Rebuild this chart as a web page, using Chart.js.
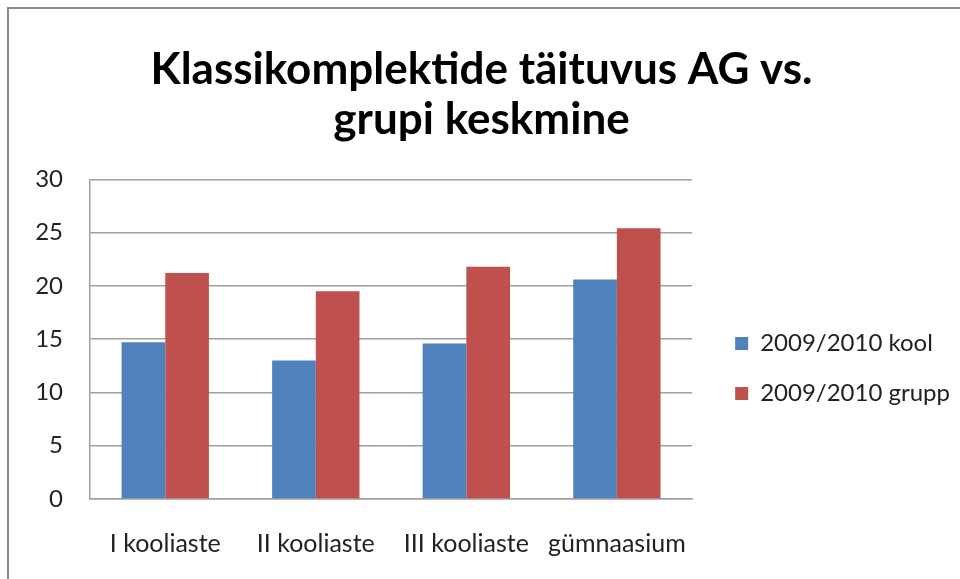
<!DOCTYPE html>
<html lang="et">
<head>
<meta charset="UTF-8">
<title>Klassikomplektide täituvus</title>
<style>
  html, body { margin: 0; padding: 0; background: #fff; }
  .wrap { position: relative; width: 960px; height: 579px; overflow: hidden; }
  .frame { position: absolute; left: 7px; top: 7px; width: 1000px; height: 1000px;
           border-left: 2px solid #8a8a8a; border-top: 2px solid #8a8a8a; box-sizing: border-box; }
  canvas { position: absolute; left: 0; top: 0; }
</style>
</head>
<body>
<div class="wrap">
  <canvas id="chart" width="960" height="579"></canvas>
  <div class="frame"></div>
</div>

<script src="https://cdn.jsdelivr.net/npm/chart.js"></script>
<script>
  const categories = ['I kooliaste', 'II kooliaste', 'III kooliaste', 'gümnaasium'];
  const koolValues = [14.7, 13.0, 14.6, 20.6];
  const gruppValues = [21.2, 19.5, 21.8, 25.4];
  const seriesNames = ['2009/2010 kool', '2009/2010 grupp'];
  const yTicks = [0, 5, 10, 15, 20, 25, 30];

  const font = 'Lato, Calibri, "Open Sans", sans-serif';

  // nudge legend and title after layout, so the plot keeps its size
  const boxShift = {
    id: 'boxShift',
    afterLayout(chart, args, opts) {
      const lg = chart.legend;
      if (lg) {
        lg.left += opts.legendDx;
        lg.right += opts.legendDx;
        lg.top += opts.legendDy;
        lg.bottom += opts.legendDy;
      }
      const tb = chart.titleBlock;
      if (tb) {
        tb.left += opts.titleDx;
        tb.right += opts.titleDx;
      }
    }
  };

  new Chart(document.getElementById('chart'), {
    type: 'bar',
    data: {
      labels: categories,
      datasets: [
        { label: seriesNames[0], data: koolValues, backgroundColor: '#4F81BD' },
        { label: seriesNames[1], data: gruppValues, backgroundColor: '#C0504D' }
      ]
    },
    options: {
      responsive: false,
      animation: false,
      layout: { padding: { left: 0, right: 17, top: 0, bottom: 0 } },
      datasets: { bar: { barPercentage: 1, categoryPercentage: 0.58 } },
      plugins: {
        title: {
          display: true,
          text: ['Klassikomplektide täituvus AG vs.', 'grupi keskmine'],
          color: '#000',
          font: { family: font, size: 44, weight: 'bold', lineHeight: 1.14 },
          padding: { top: 45, bottom: 34 }
        },
        legend: {
          position: 'right',
          maxWidth: 320,
          labels: {
            color: '#222',
            font: { family: font, size: 24 },
            boxWidth: 13,
            boxHeight: 13,
            padding: 26
          }
        },
        boxShift: { legendDx: 17, legendDy: 79, titleDx: 10 },
        tooltip: { enabled: false }
      },
      scales: {
        x: {
          grid: { display: false, drawTicks: false },
          border: { color: '#a0a0a0', width: 1.5 },
          ticks: { color: '#222', font: { family: font, size: 25 }, padding: 30, maxRotation: 0 },
          afterFit: s => { s.height = 80; }
        },
        y: {
          min: 0,
          max: 30,
          afterBuildTicks: s => { s.ticks = yTicks.map(v => ({ value: v })); },
          grid: { color: '#a0a0a0', lineWidth: 1.5, drawTicks: false },
          border: { color: '#a0a0a0', width: 1.5 },
          ticks: { color: '#222', font: { family: font, size: 24 }, padding: 27 },
          afterFit: s => { s.width = 90; }
        }
      }
    },
    plugins: [boxShift]
  });
</script>
</body>
</html>
